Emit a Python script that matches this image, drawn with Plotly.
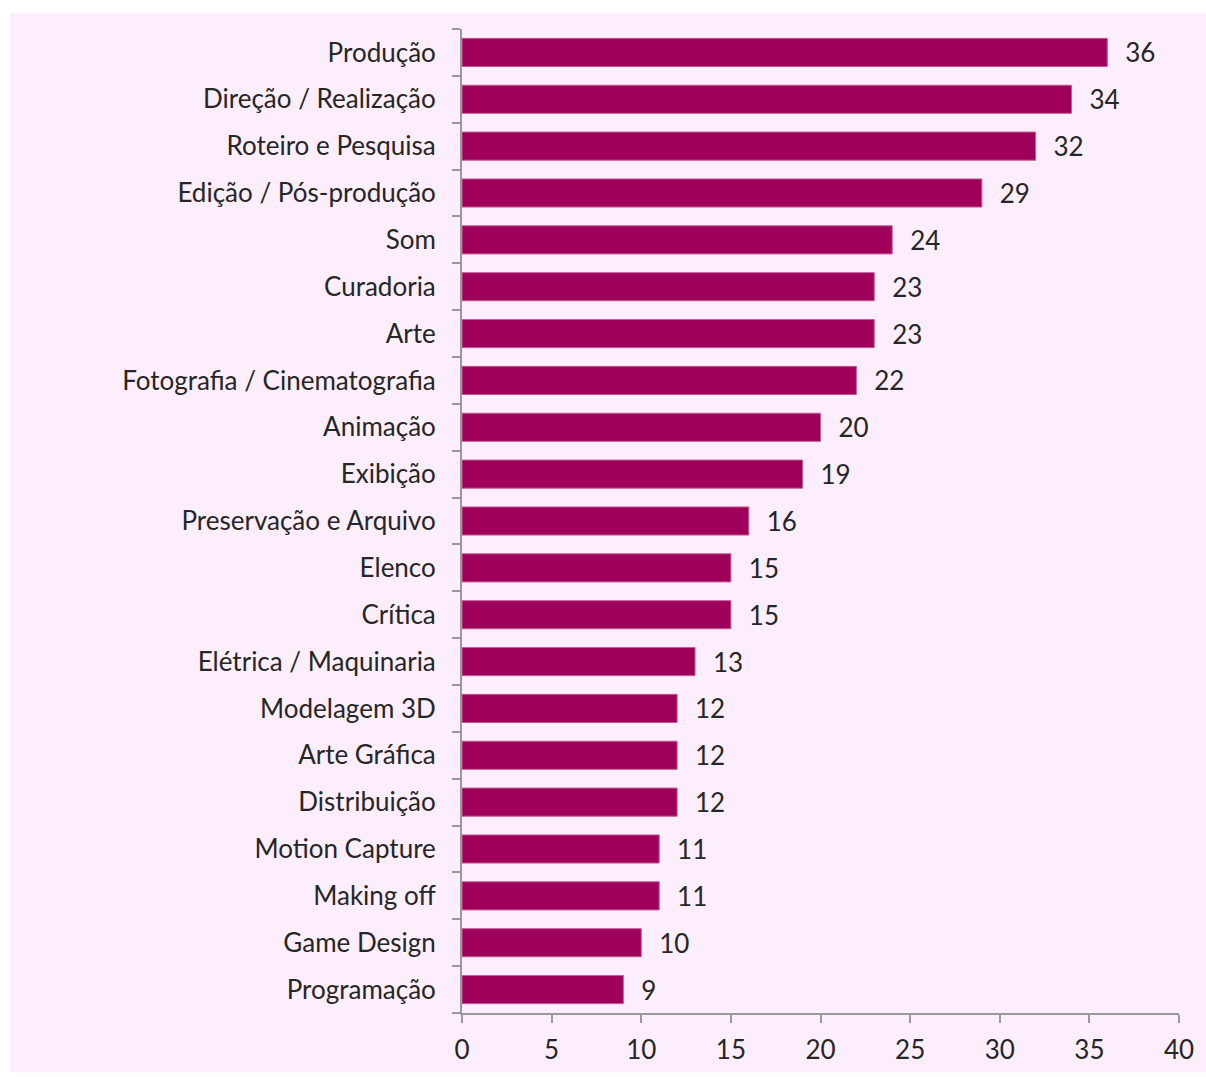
import plotly.graph_objects as go

categories = ["Produção", "Direção / Realização", "Roteiro e Pesquisa", "Edição / Pós-produção",
              "Som", "Curadoria", "Arte", "Fotografia / Cinematografia", "Animação", "Exibição",
              "Preservação e Arquivo", "Elenco", "Crítica", "Elétrica / Maquinaria", "Modelagem 3D",
              "Arte Gráfica", "Distribuição", "Motion Capture", "Making off", "Game Design", "Programação"]
values = [36, 34, 32, 29, 24, 23, 23, 22, 20, 19, 16, 15, 15, 13, 12, 12, 12, 11, 11, 10, 9]
x_ticks = [0, 5, 10, 15, 20, 25, 30, 35, 40]

FONT = "Lato"
FS = 26
PINK = "#FCEEFC"

fig = go.Figure(go.Bar(
    y=categories, x=values, orientation="h",
    marker=dict(color="#9E005A", line=dict(color="#C45A95", width=1)),
    text=values, texttemplate="  \u200a%{x}", textposition="outside",
    constraintext="none",
    textfont=dict(family=FONT, size=FS, color="#262626"),
    cliponaxis=False, width=0.6,
))

W, H = 1206, 1077
l, t = 462, 29
r = W - 1184
b = H - 1027
pw, ph = W - l - r, H - t - b

fig.update_layout(
    width=W, height=H, autosize=False,
    margin=dict(l=l, r=r, t=t, b=b, pad=0),
    paper_bgcolor="white", plot_bgcolor=PINK,
    showlegend=False,
    font=dict(family=FONT, size=FS, color="#262626"),
    shapes=[dict(type="rect", xref="paper", yref="paper", layer="below",
                 x0=(7 - l) / pw, x1=(W - l) / pw + 0.01,
                 y0=-b / ph - 0.01, y1=(H - b - 13) / ph,
                 fillcolor=PINK, line=dict(width=0))],
    xaxis=dict(range=[0, 40], tickvals=x_ticks, ticks="outside", ticklen=8, tickcolor="#999999",
               tickwidth=2, ticklabelstandoff=5,
               showline=True, linecolor="#999999", linewidth=2, showgrid=False, zeroline=False,
               tickfont=dict(family=FONT, size=FS, color="#262626")),
    yaxis=dict(categoryorder="array", categoryarray=categories[::-1], autorange=False,
               range=[-0.5, len(categories) - 0.5],
               ticks="outside", tickson="boundaries", ticklen=8, tickcolor="#999999", tickwidth=2,
               showline=True, linecolor="#999999", linewidth=2, showgrid=False,
               ticklabelstandoff=19,
               tickfont=dict(family=FONT, size=FS, color="#262626")),
)

post = (
    "document.documentElement.style.margin='0';"
    "document.documentElement.style.overflow='hidden';"
    "document.body.style.margin='0';"
    "document.body.style.overflow='hidden';"
    "var d=document.getElementById('{plot_id}');"
    "d.style.position='fixed';d.style.left='0px';d.style.top='0px';"
)
fig.write_html("out.html", config={"displayModeBar": False}, post_script=post)
